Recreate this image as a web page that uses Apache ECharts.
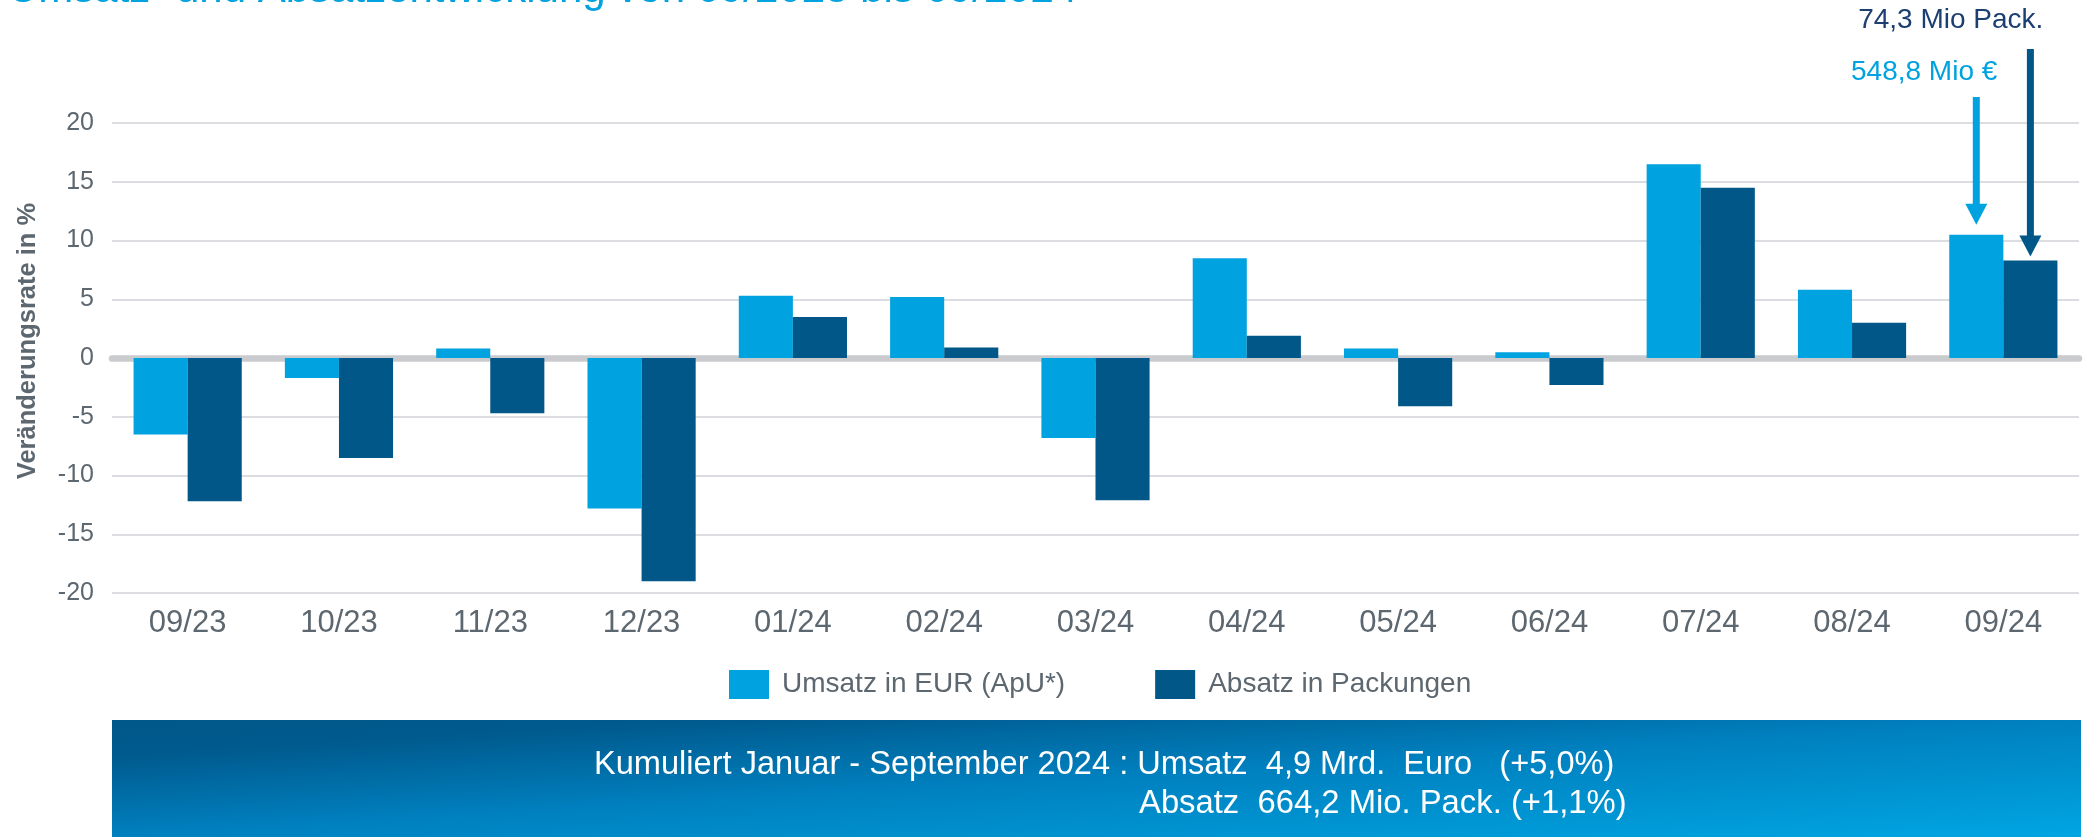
<!DOCTYPE html>
<html>
<head>
<meta charset="utf-8">
<script src="https://cdn.jsdelivr.net/npm/echarts@6/dist/echarts.min.js"></script>
<style>
    html, body { margin: 0; padding: 0; background: #fff; }
    #chart { width: 2087px; height: 837px; }
</style>
</head>
<body>
<div id="chart"></div>
<script>
// Monate und Veränderungsraten in %
const months = [ '09/23', '10/23', '11/23', '12/23', '01/24', '02/24', '03/24', '04/24', '05/24', '06/24', '07/24', '08/24', '09/24' ];
const umsatz = [ -6.5, -1.7, 0.8, -12.8, 5.3, 5.2, -6.8, 8.5, 0.8, 0.5, 16.5, 5.8, 10.5 ];
const absatz = [ -12.2, -8.5, -4.7, -19.0, 3.5, 0.9, -12.1, 1.9, -4.1, -2.3, 14.5, 3.0, 8.3 ];
const seriesNames = [ 'Umsatz in EUR (ApU*)', 'Absatz in Packungen' ];
const yRange = { min: -20, max: 20, interval: 5 };
const titleText = 'Umsatz- und Absatzentwicklung von 09/2023 bis 09/2024';
const yAxisName = 'Veränderungsrate in %';
const arrowLabels = [ '548,8 Mio €', '74,3 Mio Pack.' ];
const summaryLines = [
    'Kumuliert Januar - September 2024 : Umsatz  4,9 Mrd.  Euro   (+5,0%)',
    'Absatz  664,2 Mio. Pack. (+1,1%)'
];

const FONT = '"Liberation Sans", Arial, sans-serif';
const LIGHT = '#00a2df';
const DARK = '#005788';
const GREY_TEXT = '#5d6770';

const chart = echarts.init( document.getElementById( 'chart' ) );

const option = {
    animation: false,
    textStyle: { fontFamily: FONT },
    color: [ LIGHT, DARK ],
    grid: {
        left: 112,
        right: 8,
        top: 123,
        bottom: 244,
        containLabel: false
    },
    legend: {
        data: seriesNames,
        left: 729,
        top: 670,
        padding: 0,
        icon: 'rect',
        itemWidth: 40,
        itemHeight: 29,
        itemGap: 90,
        textStyle: {
            fontSize: 28,
            color: GREY_TEXT,
            fontFamily: FONT,
            padding: [ 0, 0, 0, 8 ]
        }
    },
    xAxis: [
        {
            // Nulllinie
            type: 'category',
            data: months,
            position: 'top',
            axisLine: { show: true, onZero: true, lineStyle: { color: '#c9cbce', width: 6.5 } },
            axisTick: { show: false },
            axisLabel: { show: false },
            splitLine: { show: false }
        },
        {
            type: 'category',
            data: months,
            position: 'bottom',
            axisLine: { show: false, onZero: false },
            axisTick: { show: false },
            axisLabel: { fontSize: 31, color: GREY_TEXT, margin: 15, fontFamily: FONT },
            splitLine: { show: false }
        }
    ],
    yAxis: {
        type: 'value',
        min: yRange.min,
        max: yRange.max,
        interval: yRange.interval,
        axisLine: { show: false },
        axisTick: { show: false },
        axisLabel: { fontSize: 25, color: GREY_TEXT, margin: 18, fontFamily: FONT },
        splitLine: { lineStyle: { color: '#dcdde0', width: 2 } }
    },
    series: [
        {
            name: seriesNames[ 0 ],
            type: 'bar',
            xAxisIndex: 0,
            data: umsatz,
            barGap: '0%',
            barCategoryGap: '28.5%',
            itemStyle: { color: LIGHT }
        },
        {
            name: seriesNames[ 1 ],
            type: 'bar',
            xAxisIndex: 0,
            data: absatz,
            barGap: '0%',
            barCategoryGap: '28.5%',
            itemStyle: { color: DARK }
        }
    ]
};

chart.setOption( option );

// Pfeile + Beschriftungen zum letzten Monat, Banner unten
function buildGraphics() {
    const last = months.length - 1;
    const cx = chart.convertToPixel( { xAxisIndex: 0 }, months[ last ] );
    const cw = cx - chart.convertToPixel( { xAxisIndex: 0 }, months[ last - 1 ] );
    const bw = cw * ( 1 - 0.285 ) / 2;
    const xs = [ cx - bw / 2, cx + bw / 2 ];
    const tops = [
        chart.convertToPixel( { yAxisIndex: 0 }, umsatz[ last ] ),
        chart.convertToPixel( { yAxisIndex: 0 }, absatz[ last ] )
    ];
    const starts = [ 97, 49 ];
    const gaps = [ 10, 4 ];
    const labelY = [ 72, 20 ];
    const labelDx = [ 21, 13 ];
    const arrowColors = [ LIGHT, DARK ];
    const labelColors = [ LIGHT, '#1c3f72' ];

    let els = [];
    xs.forEach( ( x, i ) => {
        const tip = tops[ i ] - gaps[ i ];
        const headH = 21,
            headW = 22;
        els.push( {
            type: 'rect',
            shape: { x: x - 3.5, y: starts[ i ], width: 7, height: tip - headH - starts[ i ] + 1 },
            style: { fill: arrowColors[ i ] },
            z: 10
        } );
        els.push( {
            type: 'polygon',
            shape: { points: [ [ x - headW / 2, tip - headH ], [ x + headW / 2, tip - headH ], [ x, tip ] ] },
            style: { fill: arrowColors[ i ] },
            z: 10
        } );
        els.push( {
            type: 'text',
            x: x + labelDx[ i ],
            y: labelY[ i ],
            style: {
                text: arrowLabels[ i ],
                fill: labelColors[ i ],
                font: '28px ' + FONT,
                align: 'right',
                verticalAlign: 'middle'
            },
            z: 10
        } );
    } );

    // Titel (oben abgeschnitten)
    els.push( {
        type: 'text',
        x: 8,
        y: -10,
        style: {
            text: titleText,
            fill: '#00a2df',
            font: '42px ' + FONT,
            align: 'left',
            verticalAlign: 'middle'
        }
    } );

    // y-Achsen-Titel
    els.push( {
        type: 'text',
        x: 28,
        y: 341,
        rotation: Math.PI / 2,
        style: {
            text: yAxisName,
            fill: GREY_TEXT,
            font: 'bold 25.5px ' + FONT,
            align: 'center',
            verticalAlign: 'middle'
        }
    } );

    // Banner: Verlauf dunkel oben links -> hell unten rechts
    els.push( {
        type: 'rect',
        shape: { x: 112, y: 720, width: 1969, height: 117 },
        style: {
            fill: new echarts.graphic.LinearGradient( 112, 720, 126, 953, [
                { offset: 0, color: '#00578a' },
                { offset: 0.15, color: '#005a8d' },
                { offset: 0.5, color: '#0080bf' },
                { offset: 1, color: '#00a5e2' }
            ], true )
        },
        z: 1
    } );
    els.push( {
        type: 'text',
        x: 594,
        y: 765,
        style: { text: summaryLines[ 0 ], fill: '#fff', font: '32.6px ' + FONT, align: 'left', verticalAlign: 'middle' },
        z: 2
    } );
    els.push( {
        type: 'text',
        x: 1139,
        y: 804,
        style: { text: summaryLines[ 1 ], fill: '#fff', font: '32.8px ' + FONT, align: 'left', verticalAlign: 'middle' },
        z: 2
    } );

    chart.setOption( { graphic: els } );
}

buildGraphics();
</script>
</body>
</html>
